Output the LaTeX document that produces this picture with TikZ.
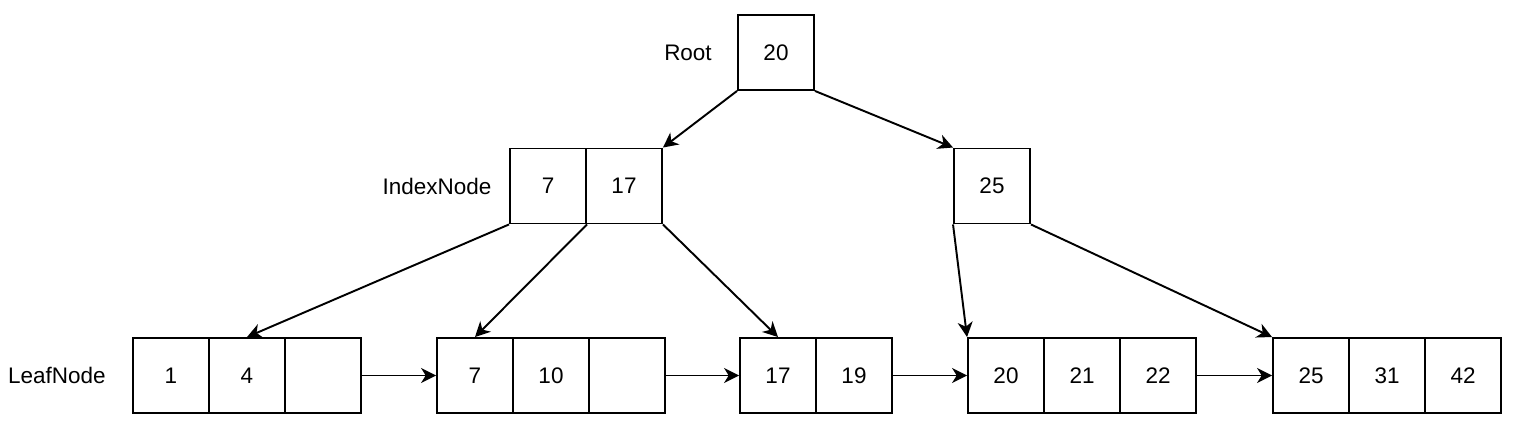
\documentclass[tikz,border=0pt]{standalone}
\usepackage{fontspec}
\setmainfont{Liberation Sans}
\usetikzlibrary{arrows.meta}

\newcommand*{\leafy}{375.5}
\newcommand*{\idxy}{186}

\begin{document}
\begin{tikzpicture}
[
	cell/.style={draw,line width=1.1pt,minimum width=1.52cm,minimum height=1.5cm,inner sep=0pt},
	ptr/.style={-{Stealth[length=8.5pt,width=8.5pt,inset=2.6pt]},line width=1.1pt},
	lbl/.style={inner sep=0pt},
	x=0.02cm,
	y=-0.02cm,
	font=\fontsize{12.8}{15}\selectfont
]

	\useasboundingbox (0,0) rectangle (1516,428);

	% root
	\node[cell] at (776,52.5) (root) {20};
	\node[lbl] at (688,52.5) (rootlbl) {Root};

	% index nodes
	\node[cell] at (548,\idxy) (idxA) {7};
	\node[cell] at (624,\idxy) (idxB) {17};
	\node[cell] at (992,\idxy) (idxC) {25};
	\node[lbl] at (437,\idxy) (idxlbl) {IndexNode};

	% leaf nodes
	\foreach \x/\name/\val in {171/a1/1,247/a2/4,323/a3/,
		475/b1/7,551/b2/10,627/b3/,
		778/c1/17,854/c2/19,
		1006/d1/20,1082/d2/21,1158/d3/22,
		1311/e1/25,1387/e2/31,1463/e3/42} {
		\node[cell] at (\x,\leafy) (\name) {\val};
	}
	\node[lbl] at (57,\leafy) (leaflbl) {LeafNode};

	% tree pointers
	\draw[ptr] (root.south west) -- (idxB.north east);
	\draw[ptr] (root.south east) -- (idxC.north west);
	\draw[ptr] (idxA.south west) -- (a2.north);
	\draw[ptr] (idxA.south east) -- (b1.north);
	\draw[ptr] (idxB.south east) -- (c1.north);
	\draw[ptr] (idxC.south west) -- (d1.north west);
	\draw[ptr] (idxC.south east) -- (e1.north west);

	% leaf links
	\draw[ptr] (a3.east) -- (b1.west);
	\draw[ptr] (b3.east) -- (c1.west);
	\draw[ptr] (c2.east) -- (d1.west);
	\draw[ptr] (d3.east) -- (e1.west);

\end{tikzpicture}
\end{document}
